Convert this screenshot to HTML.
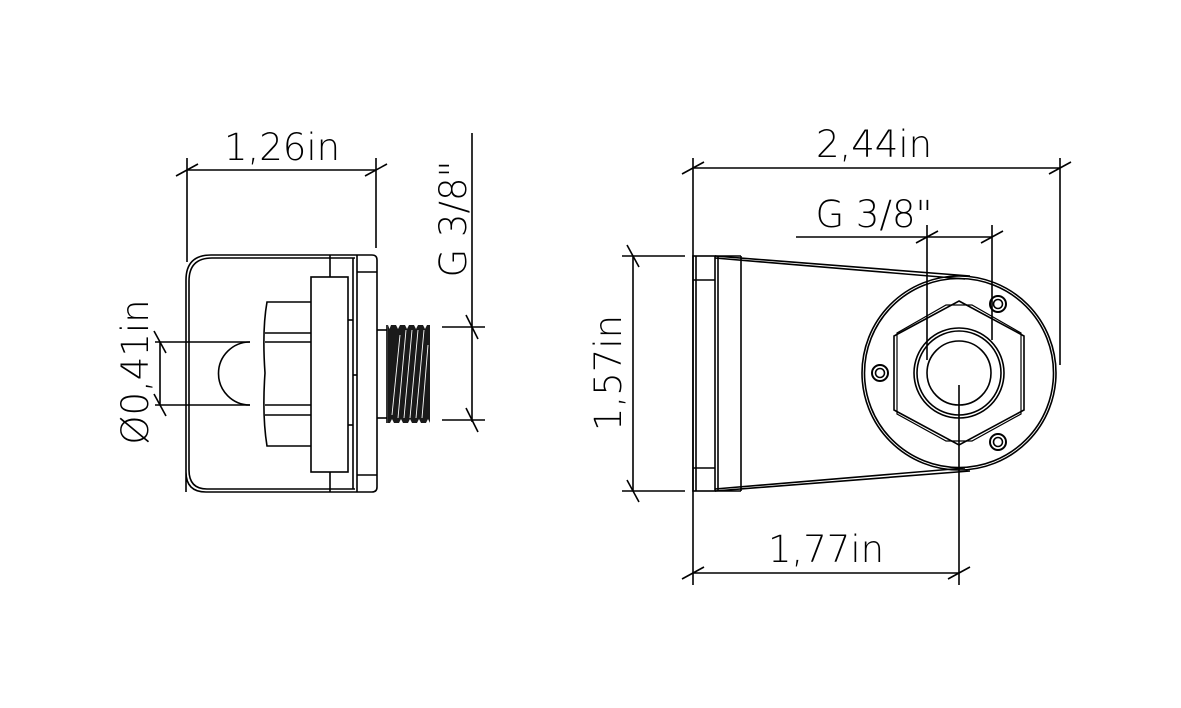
<!DOCTYPE html>
<html><head><meta charset="utf-8"><style>html,body{margin:0;padding:0;background:#fff}svg{display:block}</style></head>
<body>
<svg width="1181" height="708" viewBox="0 0 1181 708" xmlns="http://www.w3.org/2000/svg">
<g fill="none" stroke="#000" stroke-width="1.6">
<line x1="187" y1="158" x2="187" y2="262"/>
<line x1="376" y1="158" x2="376" y2="248"/>
<line x1="187" y1="170" x2="376" y2="170"/>
<line x1="176" y1="176" x2="198" y2="164"/>
<line x1="365" y1="176" x2="387" y2="164"/>
<path d="M186 492 L186 280 Q186 255 211 255 L372 255 Q377 255 377 260 L377 487 Q377 492 372 492 L206 492 Q186 492 186 472 Z"/>
<path d="M189 470 L189 281 Q189 258 212 258 L355 258 M355 489 L207 489 Q189 489 189 470"/>
<line x1="357" y1="255" x2="357" y2="492"/>
<line x1="353" y1="258" x2="353" y2="489"/>
<line x1="357" y1="272" x2="377" y2="272"/>
<line x1="357" y1="475" x2="377" y2="475"/>
<line x1="330" y1="255" x2="330" y2="277"/>
<line x1="330" y1="472" x2="330" y2="492"/>
<line x1="348" y1="320" x2="353" y2="320"/>
<line x1="353" y1="375" x2="357" y2="375"/>
<line x1="348" y1="425" x2="353" y2="425"/>
<rect x="311" y="277" width="37" height="195"/>
<path d="M311 302 L267 302 Q262 330 265 373 Q262 415 267 446 L311 446"/>
<line x1="265" y1="333" x2="311" y2="333"/>
<line x1="265" y1="342" x2="311" y2="342"/>
<line x1="265" y1="405" x2="311" y2="405"/>
<line x1="265" y1="415" x2="311" y2="415"/>
<path d="M250 342 A31 31 0 0 0 250 405"/>
<line x1="155" y1="342" x2="250" y2="342"/>
<line x1="155" y1="405" x2="250" y2="405"/>
<line x1="160" y1="342" x2="160" y2="405"/>
<line x1="154" y1="331" x2="166" y2="353"/>
<line x1="154" y1="394" x2="166" y2="416"/>
<line x1="377" y1="330" x2="387" y2="330"/>
<line x1="377" y1="418" x2="387" y2="418"/>
<line x1="387" y1="325" x2="387" y2="423"/>
<line x1="472" y1="133" x2="472" y2="422"/>
<line x1="442" y1="327" x2="485" y2="327"/>
<line x1="442" y1="420" x2="485" y2="420"/>
<line x1="466" y1="315" x2="478" y2="339"/>
<line x1="466" y1="408" x2="478" y2="432"/>

<line x1="693" y1="158" x2="693" y2="585"/>
<line x1="1060" y1="158" x2="1060" y2="365"/>
<line x1="693" y1="168" x2="1060" y2="168"/>
<line x1="682" y1="174" x2="704" y2="162"/>
<line x1="1049" y1="174" x2="1071" y2="162"/>
<line x1="796" y1="237" x2="992" y2="237"/>
<line x1="927" y1="225" x2="927" y2="360"/>
<line x1="992" y1="225" x2="992" y2="340"/>
<line x1="916" y1="243" x2="938" y2="231"/>
<line x1="981" y1="243" x2="1003" y2="231"/>
<line x1="622" y1="256" x2="685" y2="256"/>
<line x1="622" y1="491" x2="685" y2="491"/>
<line x1="633" y1="256" x2="633" y2="491"/>
<line x1="627" y1="245" x2="639" y2="267"/>
<line x1="627" y1="480" x2="639" y2="502"/>
<line x1="959" y1="385" x2="959" y2="585"/>
<line x1="693" y1="573" x2="959" y2="573"/>
<line x1="682" y1="579" x2="704" y2="567"/>
<line x1="948" y1="579" x2="970" y2="567"/>
<rect x="693" y="256" width="22" height="235"/>
<line x1="696" y1="256" x2="696" y2="491"/>
<line x1="693" y1="280" x2="715" y2="280"/>
<line x1="693" y1="468" x2="715" y2="468"/>
<line x1="715" y1="256" x2="741" y2="256"/>
<line x1="715" y1="491" x2="741" y2="491"/>
<line x1="741" y1="256" x2="741" y2="491"/>
<line x1="718" y1="256" x2="718" y2="491"/>
<path d="M715 256 L970 276"/>
<path d="M715 258 L965 279"/>
<path d="M715 491 L970 471"/>
<path d="M715 489 L965 468"/>
<circle cx="959" cy="373" r="97"/>
<circle cx="959" cy="373" r="94.5"/>
<polygon points="959,301 1024,336 1024,410 959,445 894,410 894,336"/>
<polygon points="946,305 972,305 1021,333 1021,414 972,441 946,441 897,414 897,333" stroke-width="1.2"/>
<circle cx="959" cy="373" r="45"/>
<circle cx="959" cy="373" r="42"/>
<circle cx="959" cy="373" r="32"/>
<circle cx="880" cy="373" r="8" stroke-width="2"/>
<circle cx="880" cy="373" r="4.5"/>
<circle cx="998" cy="304" r="8" stroke-width="2"/>
<circle cx="998" cy="304" r="4.5"/>
<circle cx="998" cy="442" r="8" stroke-width="2"/>
<circle cx="998" cy="442" r="4.5"/>
</g>
<rect x="388" y="325" width="42" height="98" fill="#1a1a1a"/>
<g fill="#fff">
<polygon points="388,325 391,325 389.5,329"/><polygon points="396,325 400,325 398,329"/><polygon points="405,325 409,325 407,329"/><polygon points="414,325 418,325 416,329"/><polygon points="423,325 427,325 425,329"/>
<polygon points="390,423 394,423 392,419"/><polygon points="399,423 403,423 401,419"/><polygon points="408,423 412,423 410,419"/><polygon points="417,423 421,423 419,419"/><polygon points="426,423 430,423 428,419"/>
</g>
<g stroke="#fff" stroke-width="0.9">
<line x1="392" y1="415" x2="400" y2="335"/><line x1="398" y1="418" x2="406" y2="330"/>
<line x1="404" y1="418" x2="412" y2="330"/><line x1="410" y1="418" x2="418" y2="330"/>
<line x1="416" y1="418" x2="424" y2="330"/><line x1="422" y1="418" x2="428" y2="345"/>
</g>
<g font-family="'DejaVu Sans','Liberation Sans',sans-serif" font-size="37" font-weight="200" fill="#000" text-anchor="middle">
<text x="282" y="160">1,26in</text>
<text x="874" y="157">2,44in</text>
<text x="874" y="227">G 3/8"</text>
<text x="826" y="562">1,77in</text>
<text transform="translate(148 372) rotate(-90)">Ø0,41in</text>
<text transform="translate(466 219) rotate(-90)">G 3/8"</text>
<text transform="translate(621 373) rotate(-90)">1,57in</text>
</g>
</svg>
</body></html>
